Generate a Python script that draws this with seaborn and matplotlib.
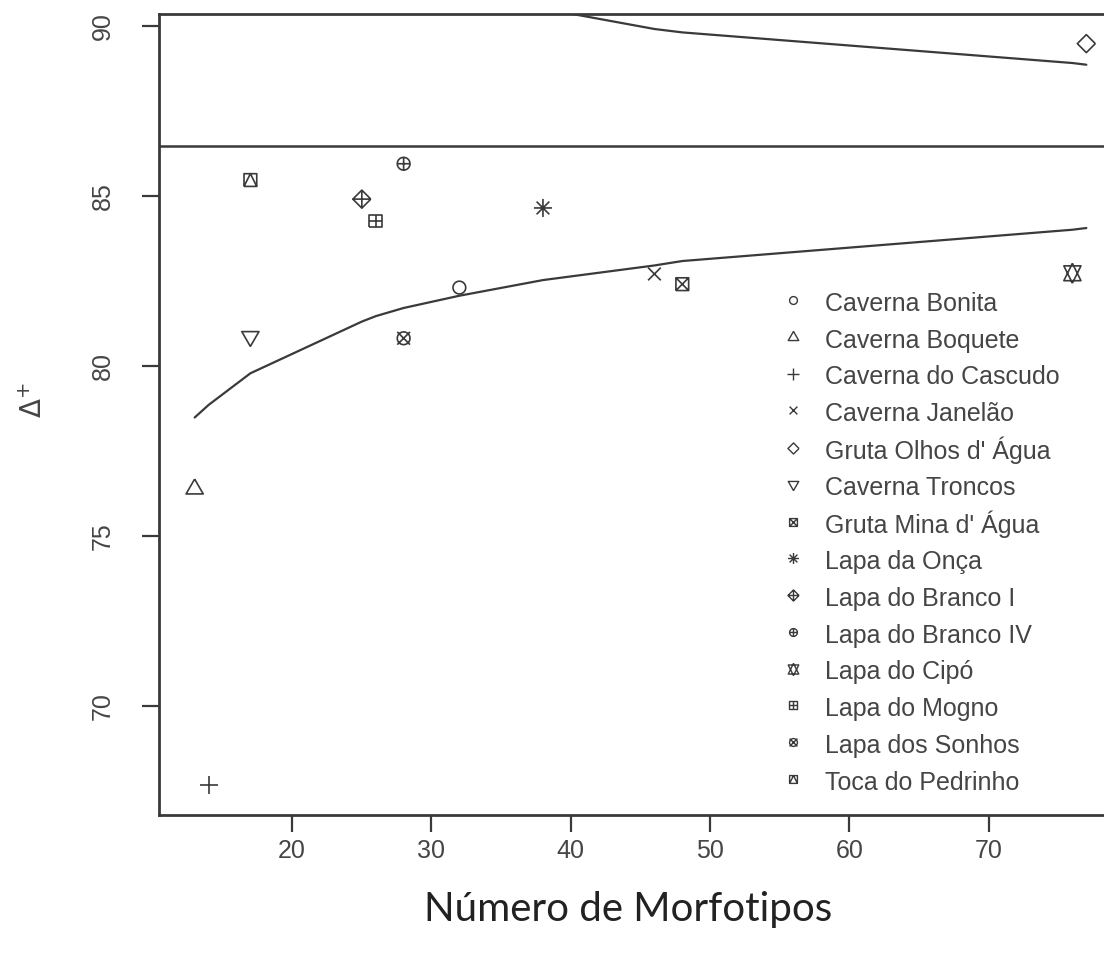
import numpy as np
import pandas as pd
import matplotlib
matplotlib.use("Agg")
import matplotlib.pyplot as plt
from matplotlib.path import Path
from matplotlib.lines import Line2D
import seaborn as sns

# --- data ---
sites = ["Caverna Bonita", "Caverna Boquete", "Caverna do Cascudo", "Caverna Janelão",
         "Gruta Olhos d' Água", "Caverna Troncos", "Gruta Mina d' Água", "Lapa da Onça",
         "Lapa do Branco I", "Lapa do Branco IV", "Lapa do Cipó", "Lapa do Mogno",
         "Lapa dos Sonhos", "Toca do Pedrinho"]
morfotipos = [32, 13, 14, 46, 77, 17, 48, 38, 25, 28, 76, 26, 28, 17]
delta_plus = [82.3, 76.38, 67.67, 82.7, 89.47, 80.86, 82.4, 84.64, 84.9, 85.94, 82.72, 84.26, 80.81, 85.46]

funnel_s = [13, 14, 17, 25, 26, 28, 32, 38, 46, 48, 76, 77]
funnel_lower = [78.48, 78.85, 79.78, 81.3, 81.46, 81.7, 82.06, 82.52, 82.95, 83.08, 84.0, 84.05]
funnel_upper = [94.4, 94.0, 93.1, 91.6, 91.45, 91.2, 90.9, 90.5, 89.9, 89.8, 88.9, 88.85]
delta_mean = 86.46

x_ticks = [20, 30, 40, 50, 60, 70]
y_ticks = [70, 75, 80, 85, 90]

ink = "#3a3a3a"
text_ink = "#454545"


def make_marker(*parts):
    # R style line-art symbols, all scaled against the same anchor
    verts, codes = [], []
    for pts in parts:
        verts += list(pts)
        codes += [Path.MOVETO] + [Path.LINETO] * (len(pts) - 1)
    verts.append((1.6, 0.0))
    codes.append(Path.MOVETO)
    return Path(verts, codes)


t = np.linspace(0, 2 * np.pi, 49)
circle = list(zip(np.cos(t), np.sin(t)))
square = [(-1, -1), (1, -1), (1, 1), (-1, 1), (-1, -1)]
diamond = [(1.414, 0), (0, 1.414), (-1.414, 0), (0, -1.414), (1.414, 0)]
tri_up = [(0, 1.555), (1.347, -0.778), (-1.347, -0.778), (0, 1.555)]
tri_down = [(0, -1.555), (1.347, 0.778), (-1.347, 0.778), (0, -1.555)]
plus1 = [[(-1, 0), (1, 0)], [(0, -1), (0, 1)]]
plus2 = [[(-1.414, 0), (1.414, 0)], [(0, -1.414), (0, 1.414)]]
cross1 = [[(-1, -1), (1, 1)], [(-1, 1), (1, -1)]]

site_markers = {
    "Caverna Bonita": make_marker(circle),
    "Caverna Boquete": make_marker(tri_up),
    "Caverna do Cascudo": make_marker(*plus2),
    "Caverna Janelão": make_marker(*cross1),
    "Gruta Olhos d' Água": make_marker(diamond),
    "Caverna Troncos": make_marker(tri_down),
    "Gruta Mina d' Água": make_marker(square, *cross1),
    "Lapa da Onça": make_marker(*plus2, *cross1),
    "Lapa do Branco I": make_marker(diamond, *plus2),
    "Lapa do Branco IV": make_marker(circle, *plus1),
    "Lapa do Cipó": make_marker([(0, -1.555), (1.347, 1.166), (-1.347, 1.166), (0, -1.555)],
                                [(0, 1.555), (1.347, -1.166), (-1.347, -1.166), (0, 1.555)]),
    "Lapa do Mogno": make_marker(square, *plus1),
    "Lapa dos Sonhos": make_marker(circle, *cross1),
    "Toca do Pedrinho": make_marker(square, [(-1, -1), (0, 1), (1, -1)]),
}

df = pd.DataFrame({"site": sites, "S": morfotipos, "delta": delta_plus})

sns.set_style("white")
plt.rcParams["font.family"] = ["Liberation Sans", "DejaVu Sans"]

fig = plt.figure(figsize=(11.04, 9.56), dpi=100)
ax = fig.add_axes([0.144, 0.1475, 0.8723, 0.8379])

sns.lineplot(x=funnel_s, y=funnel_lower, color=ink, linewidth=1.6, sort=False,
             estimator=None, ax=ax)
sns.lineplot(x=funnel_s, y=funnel_upper, color=ink, linewidth=1.6, sort=False,
             estimator=None, ax=ax)
ax.axhline(delta_mean, color=ink, linewidth=1.8)

sns.scatterplot(data=df, x="S", y="delta", style="site", markers=site_markers,
                s=215, facecolor="none", edgecolor=ink, linewidth=1.2,
                legend=False, ax=ax)

# R-like axis ranges (4% padding)
xr = max(morfotipos) - min(morfotipos)
yr = max(delta_plus) - min(delta_plus)
ax.set_xlim(min(morfotipos) - 0.04 * xr, max(morfotipos) + 0.04 * xr)
ax.set_ylim(min(delta_plus) - 0.04 * yr, max(delta_plus) + 0.04 * yr)

ax.set_xticks(x_ticks)
ax.set_yticks(y_ticks)
ax.set_yticklabels([str(v) for v in y_ticks], rotation=90, va="center")
ax.tick_params(axis="both", direction="out", length=12, width=1.6, color=ink,
               labelsize=18, labelcolor=text_ink, bottom=True, left=True)
ax.tick_params(axis="x", pad=5)
ax.tick_params(axis="y", pad=20)
for sp in ax.spines.values():
    sp.set_color(ink)
    sp.set_linewidth(2.0)

ax.set_xlabel("Número de Morfotipos", fontsize=29, color="#222222",
              family=["Lato", "DejaVu Sans"])
ax.xaxis.label.set_va("center")
ax.xaxis.set_label_coords(0.487, -0.1186)
ax.set_ylabel(r"$\Delta^{+}$", fontsize=20, color=text_ink)
ax.yaxis.label.set_va("center")
ax.yaxis.set_label_coords(-0.13, 0.518)

handles = [Line2D([], [], marker=site_markers[name], linestyle="none", markersize=9,
                  markerfacecolor="none", markeredgecolor=ink, markeredgewidth=1.0)
           for name in sites]
ax.legend(handles, sites, loc="upper left", bbox_to_anchor=(780 / 1104, 1 - 289 / 956),
          bbox_transform=fig.transFigure, frameon=False, fontsize=18,
          labelcolor=text_ink, handlelength=1.0, handleheight=1.3, handletextpad=0.8,
          labelspacing=0.38, borderpad=0, borderaxespad=0)

fig.savefig("out.png", dpi=100)
